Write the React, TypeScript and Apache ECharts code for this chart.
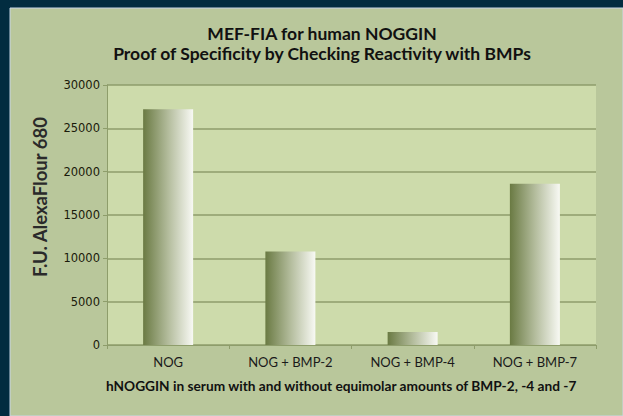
import React, { useEffect, useRef } from "react";
import * as echarts from "echarts";

const categories = ["NOG", "NOG + BMP-2", "NOG + BMP-4", "NOG + BMP-7"];
const values = [27200, 10800, 1500, 18600];
const titleLines = ["MEF-FIA for human NOGGIN", "Proof of Specificity by Checking Reactivity with BMPs"];
const yAxisName = "F.U. AlexaFlour 680";
const xAxisName = "hNOGGIN in serum with and without equimolar amounts of BMP-2, -4 and -7";

export default function App() {
  const ref = useRef<HTMLDivElement>(null);
  useEffect(() => {
    document.body.style.margin = "0";
    const chart = echarts.init(ref.current!, null, { renderer: "svg" });
    const barGrad = new echarts.graphic.LinearGradient(0, 0, 1, 0, [
      { offset: 0, color: "#6a7a43" },
      { offset: 0.5, color: "#b3bc9c" },
      { offset: 1, color: "#f8f9f4" },
    ]);
    chart.setOption({
      animation: false,
      backgroundColor: "#022c40",
      graphic: [
        {
          type: "rect",
          shape: { x: 10, y: 8, width: 613, height: 408 },
          style: { fill: "#b9c79b", stroke: "#c8d6e6", lineWidth: 1 },
          z: -10,
        },
        {
          type: "text",
          left: 106,
          top: 378,
          style: {
            text: xAxisName,
            font: "bold 13.7px Lato",
            fill: "#111111",
          },
        },
        {
          type: "text",
          x: 40,
          y: 197,
          rotation: Math.PI / 2,
          style: {
            text: yAxisName,
            font: "bold 18.5px Lato",
            fill: "#2a2a2a",
            align: "center",
            verticalAlign: "middle",
          },
        },
      ],
      title: {
        text: titleLines.join("\n"),
        left: 317,
        top: 18,
        textAlign: "center",
        textStyle: {
          fontFamily: "Lato",
          fontWeight: "bold",
          fontSize: 17.5,
          lineHeight: 20,
          color: "#111111",
        },
      },
      grid: {
        left: 107,
        right: 27,
        top: 85,
        bottom: 71,
        show: true,
        backgroundColor: "#cddbab",
        borderWidth: 0,
      },
      xAxis: {
        type: "category",
        data: categories,
        axisLine: { lineStyle: { color: "#8e9d6b", width: 1 } },
        axisTick: { show: true, length: 4, lineStyle: { color: "#8e9d6b" } },
        axisLabel: {
          fontFamily: "Lato",
          fontSize: 13,
          color: "#1a1a1a",
          margin: 10,
        },
      },
      yAxis: {
        type: "value",
        min: 0,
        max: 30000,
        interval: 5000,
        axisLine: { show: true, lineStyle: { color: "#8e9d6b" } },
        axisTick: { show: true, length: 4, lineStyle: { color: "#8e9d6b" } },
        splitLine: { lineStyle: { color: "#8e9d6b", width: 1.5 } },
        axisLabel: {
          fontFamily: "DejaVu Sans",
          fontSize: 11.5,
          color: "#1a1a0a",
          margin: 7,
          formatter: (v: number) => String(v),
        },
      },
      series: [
        {
          type: "bar",
          data: values,
          barWidth: 50,
          itemStyle: { color: barGrad },
        },
      ],
    });
    return () => chart.dispose();
  }, []);
  return <div ref={ref} style={{ width: 623, height: 416 }} />;
}
